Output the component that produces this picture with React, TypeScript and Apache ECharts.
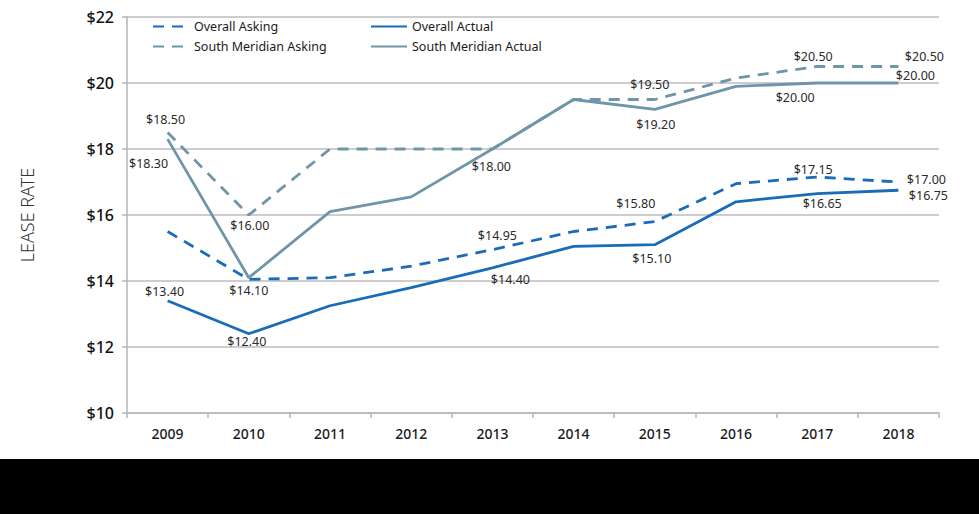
import React, { useEffect, useRef } from "react";
import * as echarts from "echarts";

const years = ["2009", "2010", "2011", "2012", "2013", "2014", "2015", "2016", "2017", "2018"];
const overallAsking = [15.5, 14.05, 14.1, 14.45, 14.95, 15.5, 15.8, 16.95, 17.15, 17.0];
const overallActual = [13.4, 12.4, 13.25, 13.8, 14.4, 15.05, 15.1, 16.4, 16.65, 16.75];
const smAsking = [18.5, 16.0, 18.0, 18.0, 18.0, 19.5, 19.5, 20.15, 20.5, 20.5];
const smActual = [18.3, 14.1, 16.1, 16.55, 18.0, 19.5, 19.2, 19.9, 20.0, 20.0];
const yTicks = [10, 12, 14, 16, 18, 20, 22];

// which points carry a value label, and where it sits relative to the point
const labelOffsets: Record<string, Record<number, [number, number]>> = {
  overallAsking: { 4: [5, -14], 6: [-19, -18], 8: [-4, -8], 9: [28, -3] },
  overallActual: { 0: [-3, -9], 1: [-2, 8], 4: [18, 12], 6: [-3, 14], 8: [5, 10], 9: [30, 5] },
  smAsking: { 0: [-2, -13], 1: [1, 10], 6: [-5, -15], 8: [-4, -10], 9: [26, -10] },
  smActual: { 0: [-19, 24], 1: [0, 13], 4: [-1, 17], 6: [1, 15], 8: [-22, 14], 9: [17, -8] },
};

const BLUE = "#1a6bb8";
const SLATE = "#6f95a8";
const FONT = "'Noto Sans', 'Open Sans', sans-serif";

function buildData(values: number[], key: string) {
  const offs = labelOffsets[key] || {};
  return values.map((v, i) => {
    const o = offs[i];
    if (!o) return { value: v, label: { show: false } };
    return {
      value: v,
      label: {
        show: true,
        position: "inside",
        offset: o,
        formatter: "$" + v.toFixed(2),
        fontFamily: FONT,
        fontSize: 12.5,
        color: "#2a2a2a",
      },
    };
  });
}

function makeSeries(name: string, values: number[], key: string, color: string, dashed: boolean) {
  return {
    name,
    type: "line",
    data: buildData(values, key),
    symbol: "circle",
    symbolSize: 1,
    showSymbol: true,
    itemStyle: { color: "rgba(0,0,0,0)" },
    lineStyle: { color, width: 2.8, type: dashed ? [11, 8] : "solid" },
    z: dashed ? 3 : 2,
  };
}

export default function App() {
  const ref = useRef<HTMLDivElement>(null);
  useEffect(() => {
    if (!ref.current) return;
    const chart = echarts.init(ref.current, undefined, { renderer: "svg" });
    const legendBase = {
      itemWidth: 36,
      itemHeight: 3,
      padding: 0,
      textStyle: { fontFamily: FONT, fontSize: 12.5, color: "#1a1a1a" },
      selectedMode: false,
    };
    chart.setOption({
      animation: false,
      backgroundColor: "#ffffff",
      grid: { left: 127, right: 40, top: 17, bottom: 101 },
      legend: [
        { ...legendBase, data: ["Overall Asking"], left: 152, top: 20 },
        { ...legendBase, data: ["Overall Actual"], left: 370, top: 20 },
        { ...legendBase, data: ["South Meridian Asking"], left: 152, top: 40 },
        { ...legendBase, data: ["South Meridian Actual"], left: 370, top: 40 },
      ],
      xAxis: {
        type: "category",
        data: years,
        boundaryGap: true,
        axisLine: { lineStyle: { color: "#b5b5b5", width: 1.5 } },
        axisTick: { show: true, length: 5, lineStyle: { color: "#b5b5b5", width: 1.5 } },
        axisLabel: { fontFamily: FONT, fontSize: 14, fontWeight: 500, color: "#1a1a1a", margin: 13 },
      },
      yAxis: {
        type: "value",
        min: 10,
        max: 22,
        interval: 2,
        name: "LEASE RATE",
        nameLocation: "middle",
        nameRotate: 90,
        nameGap: 91,
        nameTextStyle: { fontFamily: FONT, fontSize: 18, color: "#333", fontWeight: 300 },
        axisLine: { show: true, lineStyle: { color: "#b5b5b5", width: 1.5 } },
        axisTick: { show: true, length: 5, lineStyle: { color: "#b5b5b5", width: 1.5 } },
        axisLabel: {
          fontFamily: FONT,
          fontSize: 16,
          fontWeight: 500,
          color: "#111",
          margin: 13,
          formatter: (v: number) => (yTicks.includes(v) ? "$" + v : ""),
        },
        splitLine: { show: true, lineStyle: { color: "#bdbdbd", width: 1.5 } },
      },
      series: [
        makeSeries("Overall Asking", overallAsking, "overallAsking", BLUE, true),
        makeSeries("Overall Actual", overallActual, "overallActual", BLUE, false),
        makeSeries("South Meridian Asking", smAsking, "smAsking", SLATE, true),
        makeSeries("South Meridian Actual", smActual, "smActual", SLATE, false),
      ],
      graphic: [
        { type: "rect", left: 0, top: 459, shape: { width: 979, height: 55 }, style: { fill: "#000" }, z: 10 },
      ],
    });
    return () => chart.dispose();
  }, []);
  return (
    <div
      ref={ref}
      style={{ position: "fixed", left: 0, top: 0, width: 979, height: 514, background: "#fff" }}
    />
  );
}
